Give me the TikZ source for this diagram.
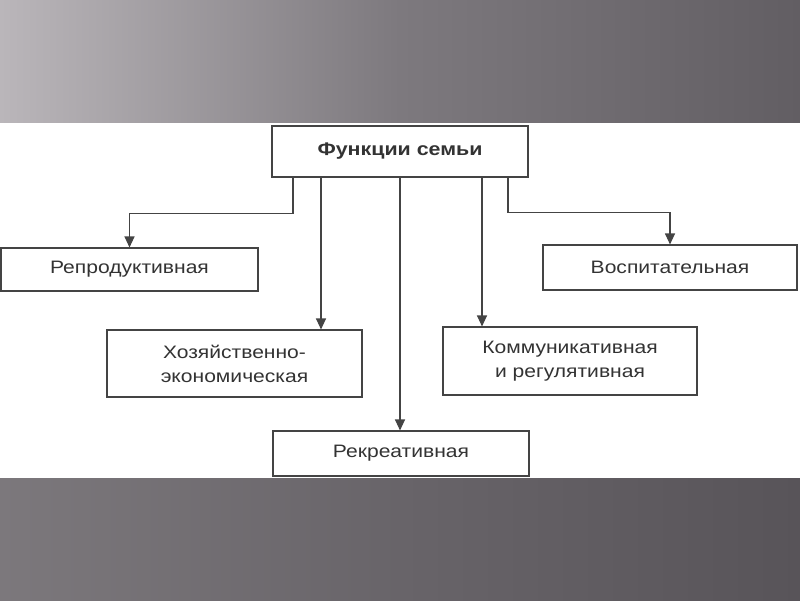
\documentclass[tikz,border=0pt]{standalone}
\usepackage{fontspec}
\usetikzlibrary{arrows.meta}
\newfontfamily\dfont[FakeStretch=1.17]{Liberation Sans}
\definecolor{ink}{HTML}{333333}
\definecolor{lineink}{HTML}{444444}
\tikzset{
  fbox/.style={draw=lineink, line width=1.1pt, fill=white, text=ink, font=\dfont\fontsize{18}{24}\selectfont, align=center, inner sep=0pt},
  arr/.style={draw=lineink, line width=1.1pt, -{Triangle[length=11pt,width=10pt]}},
  conn/.style={draw=lineink, line width=1.1pt}
}
\begin{document}
\begin{tikzpicture}[x=1pt,y=-1pt]
\useasboundingbox (0,0) rectangle (800,600);
\fill[white] (0,0) rectangle (800,600);
\shade[left color={rgb,255:red,186;green,182;blue,186}, right color={rgb,255:red,98;green,94;blue,99}, middle color={rgb,255:red,125;green,121;blue,126}] (0,0) rectangle (800,122);
\shade[left color={rgb,255:red,124;green,120;blue,124}, right color={rgb,255:red,88;green,84;blue,89}, middle color={rgb,255:red,104;green,100;blue,105}] (0,478) rectangle (800,600);

\node[fbox, minimum width=256pt, minimum height=51pt, font=\dfont\bfseries\fontsize{18.3}{24}\selectfont] (top) at (400,151.5) {Функции семьи};
\node[fbox, minimum width=257pt, minimum height=43pt] (rep) at (129.5,269.5) {Репродуктивная};
\node[fbox, minimum width=254pt, minimum height=45pt] (vos) at (670,267.5) {Воспитательная};
\node[fbox, minimum width=255pt, minimum height=67pt] (hoz) at (234.5,363.5) {Хозяйственно-\\экономическая};
\node[fbox, minimum width=254pt, minimum height=68pt] (kom) at (570,361) {Коммуникативная\\и регулятивная};
\node[fbox, minimum width=256pt, minimum height=45pt] (rek) at (401,453.5) {Рекреативная};

\coordinate (s1) at ([xshift=-107pt]top.south);
\coordinate (s2) at ([xshift=-79pt]top.south);
\coordinate (s3) at (top.south);
\coordinate (s4) at ([xshift=82pt]top.south);
\coordinate (s5) at ([xshift=108pt]top.south);

\draw[arr] (s1) -- ++(0,36) -| (rep.north);
\draw[arr] (s5) -- ++(0,35) -| (vos.north);
\draw[arr] (s2) -- (s2 |- hoz.north);
\draw[arr] (s4) -- (s4 |- kom.north);
\draw[arr] (s3) -- (s3 |- rek.north);
\end{tikzpicture}
\end{document}
